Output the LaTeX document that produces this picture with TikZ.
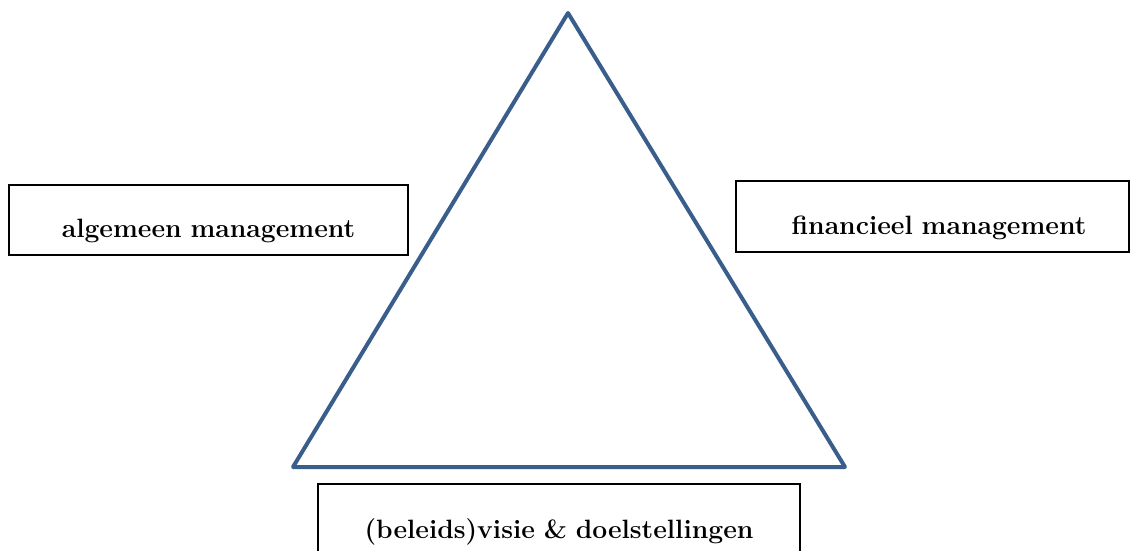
\documentclass[tikz,border=0pt]{standalone}
\begin{document}
\begin{tikzpicture}[x={(1pt,0)},y={(0,-1pt)},
  box/.style={draw=black,line width=2pt,rectangle,inner sep=0pt,align=center,
    font=\fontsize{26.5}{30}\selectfont\bfseries},
  tri/.style={draw={rgb,255:red,58;green,94;blue,140},line width=4pt,line join=round}]
\useasboundingbox (0,0) rectangle (1130,550);
\coordinate (A) at (568,13);
\coordinate (B) at (293,467);
\coordinate (C) at (845,467);
\draw[tri] (A) -- (B) -- (C) -- cycle;
\node[box,anchor=north west,text width=399pt,text height=52.7pt,text depth=17.3pt] (alg) at (8,184) {algemeen management};
\node[box,anchor=north west,text width=393pt,text height=53pt,text depth=18pt] (fin) at (735,180) {\hspace*{13pt}financieel management};
\node[box,anchor=north west,text width=482pt,text height=54pt,text depth=30pt] (vis) at (317,483) {(beleids)visie \& doelstellingen};
\end{tikzpicture}
\end{document}
